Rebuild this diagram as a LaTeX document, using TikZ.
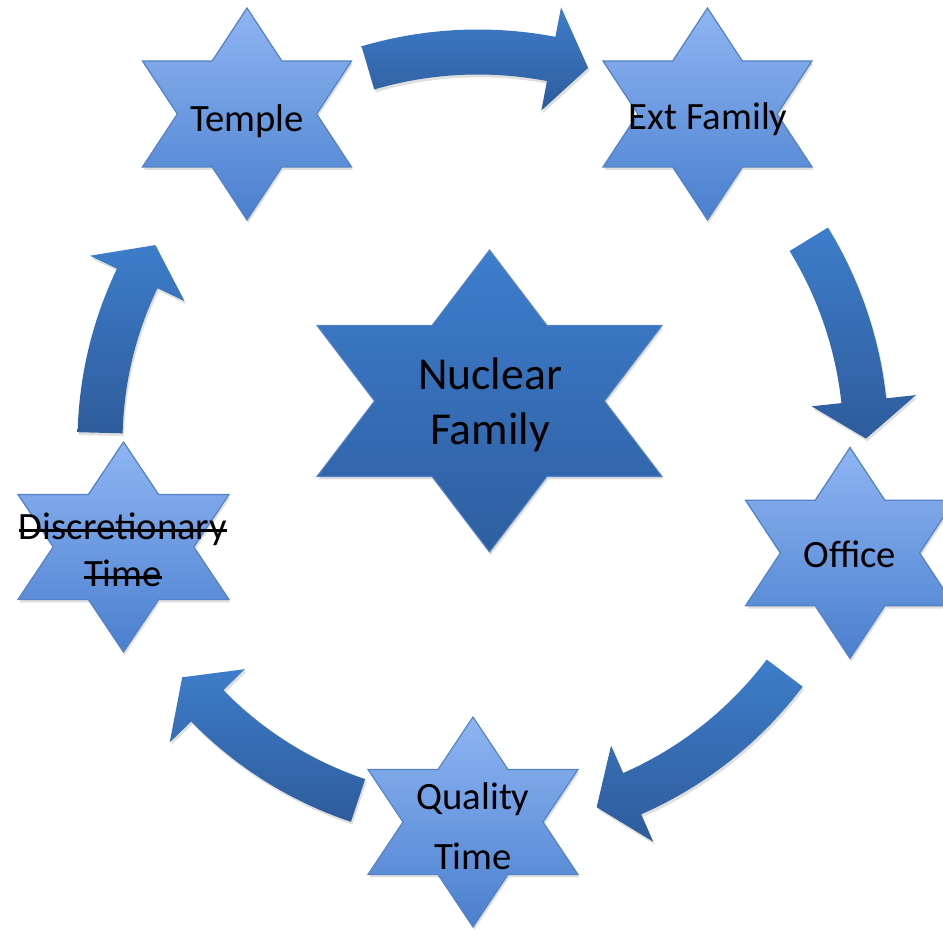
\documentclass[tikz,border=0pt]{standalone}
\usepackage{fontspec}
\setmainfont{Carlito}
\newcommand\strikeout[1]{\setbox0=\hbox{#1}\rlap{\vrule height 0.27em depth -0.21em width \wd0}\box0}
\definecolor{star_top}{rgb}{
	0.56, 0.71, 0.95
	}
\definecolor{star_bot}{rgb}{
	0.29, 0.50, 0.81
	}
\definecolor{star_edge}{rgb}{
	0.33, 0.51, 0.77
	}
\definecolor{hub_top}{rgb}{
	0.24, 0.49, 0.80
	}
\definecolor{hub_bot}{rgb}{
	0.18, 0.37, 0.63
	}
\definecolor{arr_top}{rgb}{
	0.24, 0.49, 0.79
	}
\definecolor{arr_bot}{rgb}{
	0.18, 0.36, 0.61
	}
\usetikzlibrary{calc,
                shadows}
\tikzset{
	pics/hexstar/.style n args={3}{code={
		\path[#3] (0,#2) -- ({#1/3},{#2/2}) -- (#1,{#2/2}) -- ({2*#1/3},0)
			-- (#1,{-#2/2}) -- ({#1/3},{-#2/2}) -- (0,-#2) -- ({-#1/3},{-#2/2})
			-- (-#1,{-#2/2}) -- ({-2*#1/3},0) -- (-#1,{#2/2}) -- ({-#1/3},{#2/2}) -- cycle;
	}},
}

\begin{document}
\begin{tikzpicture}[
			x=0.02cm, y=0.02cm,
			softshadow/.style = {drop shadow={shadow xshift=0.8pt, shadow yshift=-1.6pt, opacity=0.25}},
			smallstar/.style = {draw=star_edge, line width=0.7pt, top color=star_top, bottom color=star_bot, softshadow},
			hubstar/.style = {draw=star_edge, line width=0.6pt, top color=hub_top, bottom color=hub_bot, softshadow},
			cyclearrow/.style = {top color=arr_top, bottom color=arr_bot, softshadow},
			lbl/.style = {font=\fontsize{22}{27}\selectfont, align=center, inner sep=0pt},
			]
			\clip (0,0) rectangle (943,930);
			\coordinate (ring) at (478,488);
			% stars
			\pic at (489.5,529) {hexstar={172.5}{151}{hubstar}};
			\pic at (247,816) {hexstar={104.5}{106}{smallstar}};
			\pic at (707.5,816) {hexstar={104.5}{106}{smallstar}};
			\pic at (850,377) {hexstar={104.5}{105.5}{smallstar}};
			\pic at (473,108) {hexstar={105}{105}{smallstar}};
			\pic at (123.5,383) {hexstar={105.5}{105}{smallstar}};
			% labels
			\node[lbl, font=\fontsize{26}{31.2}\selectfont] (hub) at (490,525) {Nuclear\\Family};
			\node[lbl, anchor=base] (temple) at (247,798) {Temple};
			\node[lbl, anchor=base] (extfam) at (708,800) {Ext Family};
			\node[lbl, anchor=base] (office) at (850,362) {Office};
			\node[lbl, font=\fontsize{22}{34}\selectfont] (quality) at (473,103.5) {Quality\\Time};
			\node[lbl, font=\fontsize{22}{26.7}\selectfont] (discr) at (123,380) {\strikeout{Discretionary}\\\strikeout{Time}};
			% arrows round the ring
			\foreach \s/\e/\r in {106.4/73.6/390, 31.5/0.5/388, -37/-72/384, -108.5/-141.5/378, 178.6/148.6/378}{
				\pgfmathsetmacro{\h}{\e+38*57.3/\r}
				\pgfmathsetmacro{\ro}{\r+22.5}
				\pgfmathsetmacro{\ri}{\r-22.5}
				\pgfmathsetmacro{\hro}{\r+52.5}
				\pgfmathsetmacro{\hri}{\r-52.5}
				\path[cyclearrow] ([shift={(\s:\ro)}]ring) arc[start angle=\s, end angle=\h, radius=\ro]
					-- ([shift={(\h:\hro)}]ring) -- ([shift={(\e:\r)}]ring) -- ([shift={(\h:\hri)}]ring)
					-- ([shift={(\h:\ri)}]ring) arc[start angle=\h, end angle=\s, radius=\ri] -- cycle;
			}
\end{tikzpicture}
\end{document}
